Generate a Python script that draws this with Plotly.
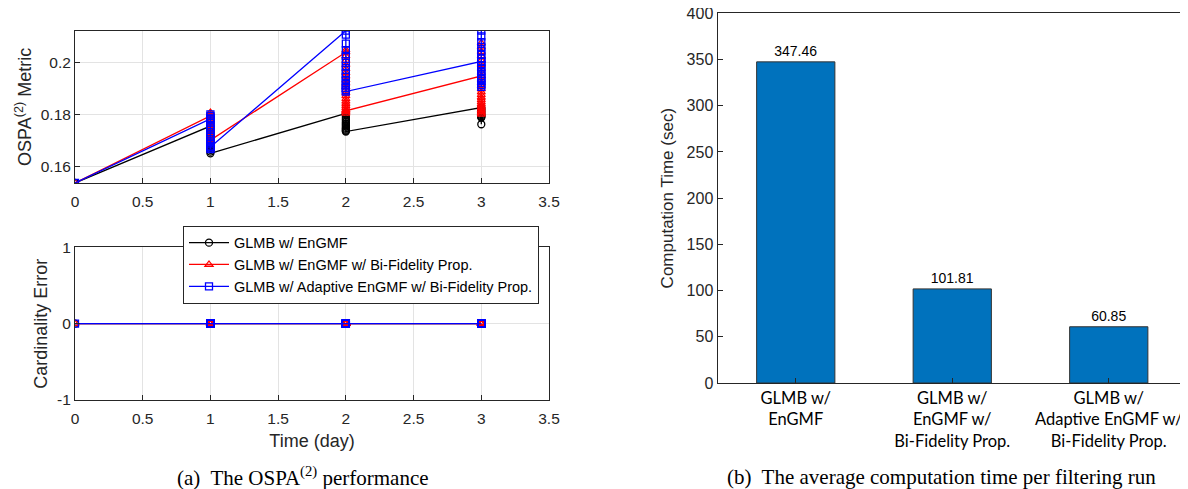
import plotly.graph_objects as go

# ---------------- data ----------------
times = [0, 1, 2, 3]

# OSPA(2) per-run values at each time step (listed in plotted order)
black_vals = [
    [0.1537],
    [0.1756, 0.1749, 0.1741, 0.1733, 0.1726, 0.1717, 0.1709, 0.1701, 0.1694,
     0.1687, 0.1679, 0.1672, 0.1665, 0.1658, 0.1651],
    [0.1805, 0.1798, 0.1790, 0.1783, 0.1777, 0.1771, 0.1765, 0.1760, 0.1755,
     0.1750, 0.1746, 0.1742, 0.1738, 0.1735],
    [0.1827, 0.1822, 0.1817, 0.1812, 0.1807, 0.1802, 0.1798, 0.1794, 0.1791,
     0.1789, 0.1763],
]
red_vals = [
    [0.1537],
    [0.1795, 0.1808, 0.1800, 0.1790, 0.1781, 0.1772, 0.1763, 0.1754, 0.1745,
     0.1736, 0.1727, 0.1718, 0.1709, 0.1700, 0.1692, 0.1702],
    [0.2040, 0.2048, 0.2025, 0.2008, 0.1992, 0.1976, 0.1961, 0.1947, 0.1933,
     0.1920, 0.1907, 0.1895, 0.1883, 0.1872, 0.1861, 0.1851, 0.1842, 0.1834,
     0.1826, 0.1818, 0.1811, 0.1805, 0.1815],
    [0.1949, 0.2075, 0.2060, 0.2042, 0.2025, 0.2008, 0.1992, 0.1977, 0.1962,
     0.1948, 0.1935, 0.1922, 0.1910, 0.1898, 0.1887, 0.1876, 0.1866, 0.1857,
     0.1848, 0.1840, 0.1832, 0.1825, 0.1818, 0.1812, 0.1806, 0.1801],
]
blue_vals = [
    [0.1537],
    [0.1784, 0.1801, 0.1794, 0.1786, 0.1778, 0.1769, 0.1760, 0.1751, 0.1742,
     0.1733, 0.1724, 0.1715, 0.1706, 0.1697, 0.1689, 0.1681, 0.1673, 0.1667,
     0.1675],
    [0.2123, 0.2108, 0.2073, 0.2048, 0.2026, 0.2006, 0.1988, 0.1972, 0.1958,
     0.1945, 0.1933, 0.1922, 0.1912, 0.1903, 0.1895, 0.1889],
    [0.2005, 0.2123, 0.2101, 0.2079, 0.2061, 0.2045, 0.2030, 0.2016, 0.2003,
     0.1990, 0.1978, 0.1967, 0.1957, 0.1947, 0.1938, 0.1930, 0.1922, 0.1914,
     0.1907],
]

# cardinality error per run (all zero)
card_runs = 15

series_names = [
    "GLMB w/ EnGMF",
    "GLMB w/ EnGMF w/ Bi-Fidelity Prop.",
    "GLMB w/ Adaptive EnGMF w/ Bi-Fidelity Prop.",
]
series_colors = ["#000000", "#FF0000", "#0000FF"]
series_symbols = ["circle-open", "triangle-up-open", "square-open"]

# computation time
bar_categories = [
    "GLMB w/<br>EnGMF",
    "GLMB w/<br>EnGMF w/<br>Bi-Fidelity Prop.",
    "GLMB w/<br>Adaptive EnGMF w/<br>Bi-Fidelity Prop.",
]
bar_values = [347.46, 101.81, 60.85]

x_ticks = [0, 0.5, 1, 1.5, 2, 2.5, 3, 3.5]
x_ticklabels = ["0", "0.5", "1", "1.5", "2", "2.5", "3", "3.5"]

# ---------------- figure ----------------
W, H = 1188, 489
OFF = 8  # page body margin
AX = "#262626"
FONT = "Liberation Sans, Arial, Helvetica, sans-serif"
SERIF = "Liberation Serif, Times New Roman, serif"


def px(x):
    return (x - OFF) / W


def py(y):
    return 1 - (y - OFF) / H


fig = go.Figure()


def flatten(vals):
    xs, ys = [], []
    for t, vlist in zip(times, vals):
        for v in vlist:
            xs.append(t)
            ys.append(v)
    return xs, ys


for vals, name, col, sym in zip([black_vals, red_vals, blue_vals],
                                series_names, series_colors, series_symbols):
    xs, ys = flatten(vals)
    fig.add_trace(go.Scatter(
        x=xs, y=ys, mode="lines+markers", name=name,
        line=dict(color=col, width=1.3),
        marker=dict(symbol=sym, size=7, color=col, line=dict(width=1.3, color=col)),
        xaxis="x", yaxis="y", showlegend=True,
    ))

for name, col, sym in zip(series_names, series_colors, series_symbols):
    xs, ys = [], []
    for t in times:
        n = 1 if t == 0 else card_runs
        xs += [t] * n
        ys += [0] * n
    fig.add_trace(go.Scatter(
        x=xs, y=ys, mode="lines+markers", name=name,
        line=dict(color=col, width=1.3),
        marker=dict(symbol=sym, size=7, color=col, line=dict(width=1.3, color=col)),
        xaxis="x2", yaxis="y2", showlegend=False,
    ))

fig.add_trace(go.Bar(
    x=bar_categories, y=bar_values, width=0.5,
    marker=dict(color="#0072BD", line=dict(color="#333333", width=1)),
    text=[f"{v:.2f}" for v in bar_values], textposition="outside",
    textfont=dict(family=FONT, size=14, color="#000000"),
    cliponaxis=False,
    xaxis="x3", yaxis="y3", showlegend=False,
))


def common(size):
    return dict(showline=True, linecolor=AX, linewidth=1, mirror=True,
                ticks="inside", ticklen=5, tickcolor=AX, zeroline=False,
                automargin=False, ticklabeloverflow="allow",
                tickfont=dict(family=FONT, size=size, color=AX))


lx0, lx1 = px(75), px(549)

fig.update_layout(
    width=W, height=H,
    margin=dict(l=0, r=0, t=0, b=0),
    paper_bgcolor="white", plot_bgcolor="white",
    font=dict(family=FONT, color=AX),
    xaxis=dict(domain=[lx0, lx1], anchor="y", range=[0, 3.5],
               tickvals=x_ticks, ticktext=x_ticklabels, ticklabelstandoff=4,
               showgrid=True, gridcolor="#E3E3E3", **common(15.5)),
    yaxis=dict(domain=[py(183), py(30.7)], anchor="x",
               range=[0.1537, 0.2123], tickvals=[0.16, 0.18, 0.2],
               ticktext=["0.16", "0.18", "0.2"],
               showgrid=True, gridcolor="#E3E3E3",
               title=dict(text="OSPA<sup>(2)</sup> Metric",
                          font=dict(family=FONT, size=18, color=AX), standoff=4),
               **common(15.5)),
    xaxis2=dict(domain=[lx0, lx1], anchor="y2", range=[0, 3.5],
                tickvals=x_ticks, ticktext=x_ticklabels, ticklabelstandoff=4,
                showgrid=True, gridcolor="#E3E3E3",
                title=dict(text="Time (day)", font=dict(family=FONT, size=18, color=AX),
                           standoff=8),
                **common(15.5)),
    yaxis2=dict(domain=[py(400), py(247.3)], anchor="x2", range=[-1, 1],
                tickvals=[-1, 0, 1], ticktext=["-1", "0", "1"],
                showgrid=True, gridcolor="#E3E3E3",
                title=dict(text="Cardinality Error",
                           font=dict(family=FONT, size=18, color=AX), standoff=4),
                **common(15.5)),
    xaxis3=dict(domain=[px(717.5), px(1187)], anchor="y3", range=[-0.5, 2.5],
                type="category", showgrid=False,
                **{**common(16), "tickfont": dict(family="Lato, Open Sans, sans-serif",
                                                  size=16.5, color="#000000")}),
    yaxis3=dict(domain=[py(383), py(13.3)], anchor="x3", range=[0, 400],
                tickvals=list(range(0, 401, 50)), showgrid=False,
                title=dict(text="Computation Time (sec)",
                           font=dict(family=FONT, size=17, color=AX), standoff=8),
                **common(16)),
    legend=dict(x=px(183), y=py(225.7), xanchor="left", yanchor="top",
                bgcolor="white", bordercolor=AX, borderwidth=1,
                font=dict(family=FONT, size=14.5, color="#000000"),
                itemwidth=40, tracegroupgap=0),
)

fig.add_annotation(text="(a)  The OSPA<sup>(2)</sup> performance", x=px(303), y=py(476),
                   xref="paper", yref="paper", showarrow=False,
                   xanchor="center", yanchor="middle",
                   font=dict(family=SERIF, size=21, color="#000000"))
fig.add_annotation(text="(b)  The average computation time per filtering run", x=px(941),
                   y=py(477), xref="paper", yref="paper", showarrow=False,
                   xanchor="center", yanchor="middle",
                   font=dict(family=SERIF, size=21, color="#000000"))

fig.write_html("out.html")
